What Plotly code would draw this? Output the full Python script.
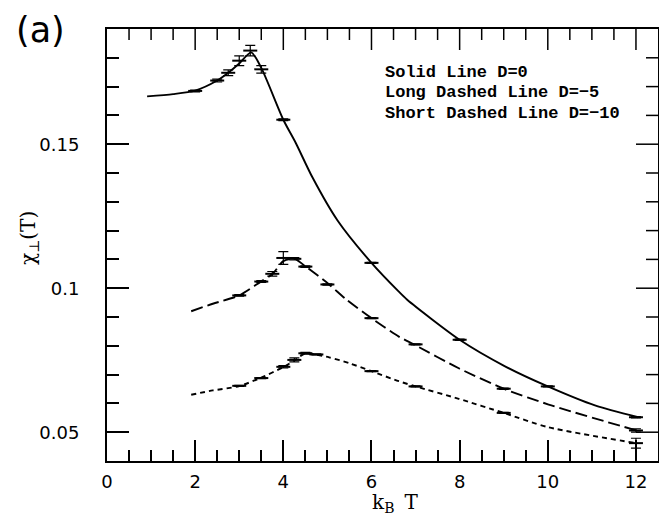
import numpy as np
import plotly.graph_objects as go

# ---- data ----
# D = 0 (solid)
T_curve_d0 = [0.91, 1.5, 2.0, 2.5, 2.75, 3.0, 3.27, 3.5, 4.0, 4.28, 4.66, 5.23, 6.0, 6.62, 6.81, 8.0, 9.04, 10.0, 11.07, 12.05]
chi_curve_d0 = [0.1666, 0.1674, 0.1686, 0.1721, 0.1748, 0.1780, 0.1819, 0.1765, 0.1585, 0.1505, 0.1385, 0.1235, 0.1088, 0.0988, 0.0960, 0.0821, 0.0728, 0.0659, 0.0593, 0.0552]
T_pts_d0 = [2.0, 2.5, 2.75, 3.0, 3.25, 3.5, 4.0, 6.0, 8.0, 10.0, 12.0]
chi_pts_d0 = [0.1685, 0.1721, 0.1748, 0.1790, 0.1825, 0.1760, 0.1585, 0.1088, 0.0821, 0.0659, 0.0552]
err_d0 = [0.0003, 0.0005, 0.0010, 0.0017, 0.0018, 0.0013, 0.0003, 0.0002, 0.0002, 0.0002, 0.0002]

# D = -5 (long dashed)
T_curve_d5 = [1.91, 2.4, 3.0, 3.49, 3.76, 4.0, 4.25, 4.51, 5.04, 5.42, 6.0, 6.62, 6.96, 7.98, 9.0, 10.02, 12.01]
chi_curve_d5 = [0.0920, 0.0946, 0.0975, 0.1023, 0.1050, 0.1094, 0.1102, 0.1075, 0.1013, 0.0962, 0.0896, 0.0832, 0.0805, 0.0722, 0.0651, 0.0596, 0.0506]
T_pts_d5 = [3.0, 3.5, 3.75, 4.0, 4.25, 4.5, 5.0, 6.0, 7.0, 9.0, 12.0]
chi_pts_d5 = [0.0975, 0.1023, 0.1050, 0.1105, 0.1102, 0.1075, 0.1013, 0.0896, 0.0805, 0.0651, 0.0506]
err_d5 = [0.0003, 0.0003, 0.0008, 0.0022, 0.0004, 0.0003, 0.0002, 0.0002, 0.0002, 0.0002, 0.0006]

# D = -10 (short dashed)
T_curve_d10 = [1.91, 2.4, 3.0, 3.49, 4.0, 4.25, 4.5, 4.74, 5.04, 5.49, 6.0, 6.62, 7.0, 7.98, 9.0, 10.02, 12.01]
chi_curve_d10 = [0.0630, 0.0645, 0.0660, 0.0689, 0.0726, 0.0749, 0.0774, 0.0769, 0.0760, 0.0740, 0.0712, 0.0677, 0.0659, 0.0616, 0.0567, 0.0517, 0.0462]
T_pts_d10 = [3.0, 3.5, 4.0, 4.25, 4.5, 4.75, 6.0, 7.0, 9.0, 12.0]
chi_pts_d10 = [0.0661, 0.0688, 0.0727, 0.0751, 0.0774, 0.0770, 0.0712, 0.0659, 0.0567, 0.0462]
err_d10 = [0.0002, 0.0002, 0.0004, 0.0007, 0.0003, 0.0002, 0.0002, 0.0002, 0.0002, 0.0017]

legend_lines = ["Solid Line D=0", "Long Dashed Line D=\u22125", "Short Dashed Line D=\u221210"]
y_tickvals = [0.05, 0.1, 0.15]
y_ticktext = ["0.05", "0.1", "0.15"]
x_tickvals = [0, 2, 4, 6, 8, 10, 12]
x_range = [0, 12.5]
y_range = [0.04, 0.19]
x_minor_step = 0.5
y_minor_step = 0.01

fig = go.Figure()

series = [
    (T_curve_d0, chi_curve_d0, T_pts_d0, chi_pts_d0, err_d0, "solid"),
    (T_curve_d5, chi_curve_d5, T_pts_d5, chi_pts_d5, err_d5, "12px,5px"),
    (T_curve_d10, chi_curve_d10, T_pts_d10, chi_pts_d10, err_d10, "5px,4px"),
]
for tc, cc, tp, cp, ep, dash in series:
    fig.add_trace(go.Scatter(x=tc, y=cc, mode="lines",
                             line=dict(color="black", width=1.9, dash=dash, shape="spline", smoothing=0.7),
                             showlegend=False, hoverinfo="skip"))
    fig.add_trace(go.Scatter(x=tp, y=cp, mode="markers",
                             marker=dict(symbol="line-ew", size=10, color="black",
                                         line=dict(color="black", width=2)),
                             error_y=dict(type="data", array=ep, visible=True, color="black",
                                          thickness=1.2, width=5),
                             showlegend=False))

base = dict(ticks="inside", tickcolor="black", tickwidth=1.5,
            showgrid=False, zeroline=False, automargin=False,
            showline=True, linecolor="black", linewidth=2, mirror=True,
            tickfont=dict(family="DejaVu Sans", size=18, color="black"))

xminor = dict(dtick=x_minor_step, tick0=0, ticks="inside", ticklen=11, tickcolor="black",
              tickwidth=1.5, showgrid=False)
yminor = dict(dtick=y_minor_step, tick0=y_range[0], ticks="inside", ticklen=12, tickcolor="black",
              tickwidth=1.5, showgrid=False)

fig.update_layout(
    xaxis=dict(range=x_range, tickmode="array", tickvals=x_tickvals, ticklen=21, minor=xminor,
               ticklabelstandoff=3, **base),
    yaxis=dict(range=y_range, tickmode="array", tickvals=y_tickvals, ticktext=y_ticktext,
               ticklen=22, minor=yminor, ticklabelstandoff=22, **base),
)

# mirrored ticks on the top and right frame edges (same positions as the axis ticks)
shapes = []
x_minor_vals = [v for v in np.arange(x_range[0], x_range[1] + 1e-9, x_minor_step)
                if all(abs(v - m) > 1e-9 for m in x_tickvals)]
y_minor_vals = [v for v in np.arange(y_range[0], y_range[1] + 1e-9, y_minor_step)
                if all(abs(v - m) > 1e-9 for m in y_tickvals) and y_range[0] < v < y_range[1]]
for v, ln in [(m, 21) for m in x_tickvals] + [(m, 11) for m in x_minor_vals]:
    if 0 < v < x_range[1]:
        shapes.append(dict(type="line", xref="x", yref="paper", ysizemode="pixel", yanchor=1,
                           x0=v, x1=v, y0=0, y1=-ln, line=dict(color="black", width=1.5)))
for v, ln in [(m, 22) for m in y_tickvals] + [(m, 12) for m in y_minor_vals]:
    shapes.append(dict(type="line", yref="y", xref="paper", xsizemode="pixel", xanchor=1,
                       y0=v, y1=v, x0=0, x1=-ln, line=dict(color="black", width=1.5)))

# page body has an 8px default margin: the figure is drawn offset by (8, 8)
OFF = 8
W, H = 667, 516
L, T = 107 - OFF, 29 - OFF
pw, ph = 551, 432
R, B = W - L - pw, H - T - ph

def px(xs):
    return (xs - OFF - L) / pw

def py(ys):
    return (T + ph - (ys - OFF)) / ph

annotations = []
for txt, yc in zip(legend_lines, [72.5, 92.5, 113.5]):
    annotations.append(dict(x=px(383), y=py(yc), xref="paper", yref="paper", text=txt,
                            showarrow=False, xanchor="left", yanchor="middle",
                            font=dict(family="Liberation Mono", size=17, color="black", weight="bold")))
annotations.append(dict(x=px(40), y=py(8), xref="paper", yref="paper", text="(a)",
                        showarrow=False, xanchor="center", yanchor="top",
                        font=dict(family="DejaVu Sans", size=35, color="black")))
annotations.append(dict(x=px(395), y=py(503), xref="paper", yref="paper",
                        text="k<sub>B</sub>\u2002T", showarrow=False, xanchor="center", yanchor="middle",
                        font=dict(family="DejaVu Serif", size=20, color="black")))
annotations.append(dict(x=px(29), y=py(238), xref="paper", yref="paper",
                        text="\u03c7<sub>\u22a5</sub>(T)", showarrow=False, textangle=-90,
                        xanchor="center", yanchor="middle",
                        font=dict(family="DejaVu Serif", size=20, color="black")))

fig.update_layout(width=W, height=H, margin=dict(l=L, r=R, t=T, b=B, autoexpand=False),
                  paper_bgcolor="white", plot_bgcolor="white",
                  annotations=annotations, shapes=shapes, showlegend=False)

fig.write_html("out.html")
